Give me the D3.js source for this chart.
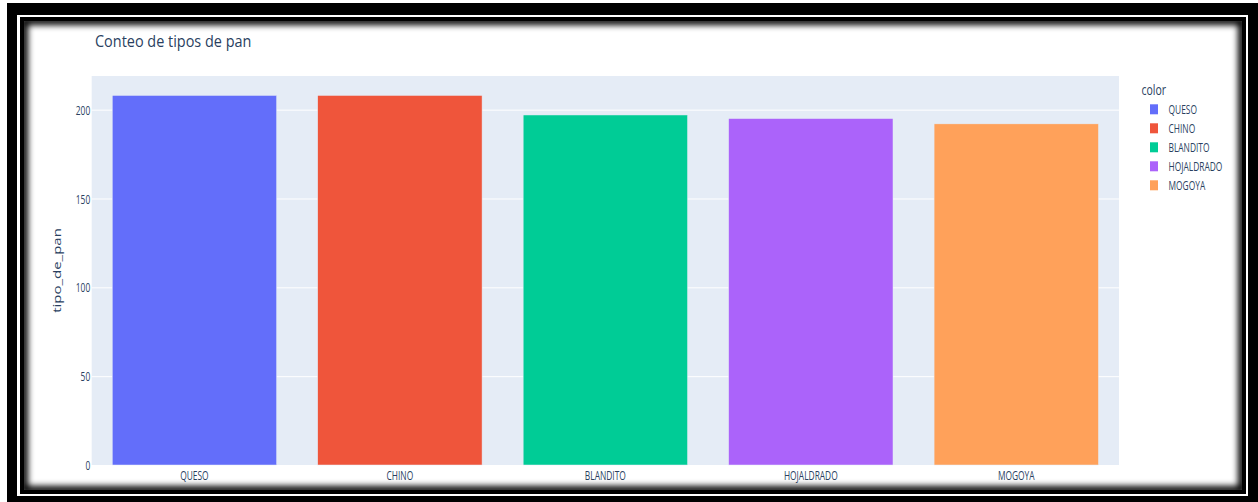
<!DOCTYPE html>
<html>
<head>
<meta charset="utf-8">
<script src="https://cdn.jsdelivr.net/npm/d3@7"></script>
<style>
  html, body { margin: 0; padding: 0; background: #ffffff; }
  svg { display: block; }
  text { font-family: "Open Sans", "Noto Sans", sans-serif; fill: #2a3f5f; }
</style>
</head>
<body>
<svg id="chart" width="1258" height="502"></svg>
<script>
// Bread type counts
const categories = ["QUESO", "CHINO", "BLANDITO", "HOJALDRADO", "MOGOYA"];
const counts = [208, 208, 197, 195, 192];
const colors = ["#636efa", "#EF553B", "#00cc96", "#ab63fa", "#FFA15A"];
const yTicks = [0, 50, 100, 150, 200];
const titleText = "Conteo de tipos de pan";
const yTitle = "tipo_de_pan";
const legendTitle = "color";

const W = 1258, H = 502;
const svg = d3.select("#chart");
const defs = svg.append("defs");

// Framed screenshot border: black band, thin white line, inner black line
svg.append("rect").attr("x", 7).attr("y", 3).attr("width", W - 7).attr("height", H - 3).attr("fill", "#000");
svg.append("rect").attr("x", 17).attr("y", 15).attr("width", 1248 - 17).attr("height", 496 - 15).attr("fill", "#fff");
svg.append("rect").attr("x", 20).attr("y", 17).attr("width", 1246 - 20).attr("height", 494 - 17).attr("fill", "#000");

const inner = { x: 24, y: 21, w: 1242 - 24, h: 490 - 21 };
svg.append("rect").attr("x", inner.x).attr("y", inner.y).attr("width", inner.w).attr("height", inner.h).attr("fill", "#fff");

// Inner shadow along the content edge
defs.append("clipPath").attr("id", "innerClip")
  .append("rect").attr("x", inner.x).attr("y", inner.y).attr("width", inner.w).attr("height", inner.h);
defs.append("filter").attr("id", "soft").attr("x", "-5%").attr("y", "-5%").attr("width", "110%").attr("height", "110%")
  .append("feGaussianBlur").attr("stdDeviation", 3);
svg.append("g").attr("clip-path", "url(#innerClip)")
  .append("rect")
  .attr("x", inner.x).attr("y", inner.y).attr("width", inner.w).attr("height", inner.h)
  .attr("fill", "none").attr("stroke", "#000").attr("stroke-width", 8)
  .attr("filter", "url(#soft)");

// Plot area
const plot = { left: 91.7, right: 1119, top: 76, bottom: 465 };
const yMax = d3.max(counts) * 1.0526;

const x = d3.scaleBand()
  .domain(categories)
  .range([plot.left, plot.right])
  .paddingInner(0.2)
  .paddingOuter(0.1);

const y = d3.scaleLinear()
  .domain([0, yMax])
  .range([plot.bottom, plot.top]);

svg.append("rect")
  .attr("x", plot.left).attr("y", plot.top)
  .attr("width", plot.right - plot.left).attr("height", plot.bottom - plot.top)
  .attr("fill", "#E5ECF6");

// Horizontal gridlines
const yAxis = d3.axisLeft(y).tickValues(yTicks).tickSize(-(plot.right - plot.left)).tickPadding(2).tickFormat(d3.format("d"));
const gy = svg.append("g").attr("transform", `translate(${plot.left},0)`).call(yAxis);
gy.select(".domain").remove();
gy.selectAll(".tick line").attr("stroke", "#ffffff").attr("stroke-width", 1);
gy.selectAll(".tick text")
  .attr("font-size", 12)
  .attr("fill", "#2a3f5f")
  .attr("x", null)
  .attr("dy", null)
  .attr("dominant-baseline", "central")
  .attr("text-anchor", "end")
  .each(function () {
    const t = d3.select(this);
    t.attr("transform", `translate(-1.5,0) scale(0.7,1)`);
  });

// Bars
svg.append("g").selectAll("rect")
  .data(categories)
  .join("rect")
  .attr("x", d => x(d))
  .attr("width", x.bandwidth())
  .attr("y", (d, i) => y(counts[i]))
  .attr("height", (d, i) => y(0) - y(counts[i]))
  .attr("fill", (d, i) => colors[i])
  .attr("stroke", "#E5ECF6")
  .attr("stroke-width", 0.5);

// X axis labels
const xAxis = d3.axisBottom(x).tickSize(0).tickPadding(0);
const gx = svg.append("g").attr("transform", `translate(0,${plot.bottom})`).call(xAxis);
gx.select(".domain").remove();
gx.selectAll(".tick text")
  .attr("font-size", 12)
  .attr("fill", "#2a3f5f")
  .attr("y", null).attr("dy", null)
  .attr("transform", "translate(0,15) scale(0.7,1)");

// Title
svg.append("text")
  .attr("transform", "translate(95,47) scale(0.85,1)")
  .attr("font-size", 17)
  .text(titleText);

// Y axis title
svg.append("text")
  .attr("transform", `translate(61,${(plot.top + plot.bottom) / 2}) scale(0.72,1) rotate(-90)`)
  .attr("text-anchor", "middle")
  .attr("font-size", 15)
  .text(yTitle);

// Legend
const legend = svg.append("g").attr("transform", "translate(1141.5,0)");
legend.append("text")
  .attr("transform", "translate(0,95) scale(0.75,1)")
  .attr("font-size", 14)
  .text(legendTitle);
const items = legend.selectAll("g.item")
  .data(categories)
  .join("g")
  .attr("class", "item")
  .attr("transform", (d, i) => `translate(0,${109.3 + i * 19})`);
items.append("rect")
  .attr("x", 8.5).attr("y", -5)
  .attr("width", 8).attr("height", 10)
  .attr("fill", (d, i) => colors[i]);
items.append("text")
  .attr("transform", "translate(27,4.2) scale(0.7,1)")
  .attr("font-size", 12)
  .text(d => d);
</script>
</body>
</html>
